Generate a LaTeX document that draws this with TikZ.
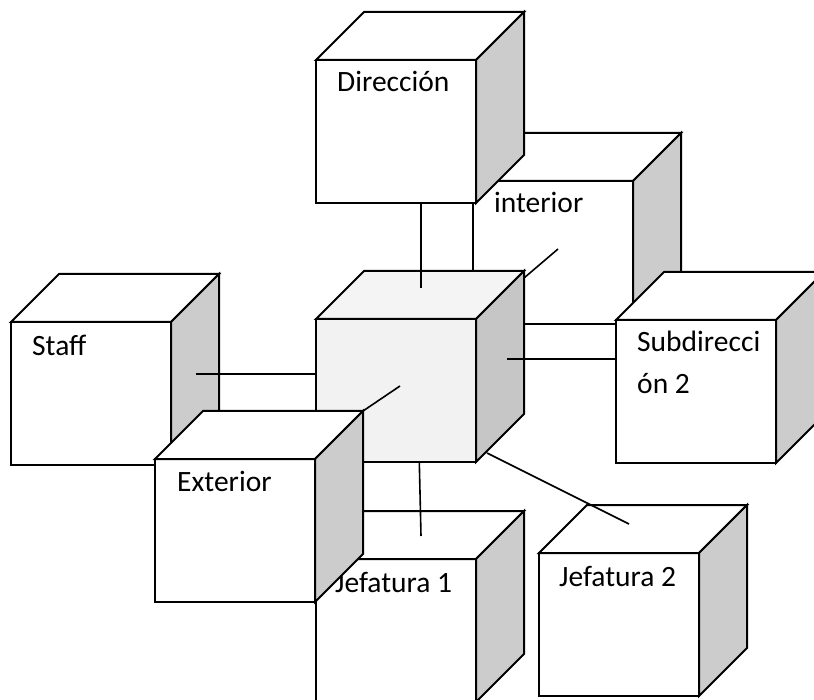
\documentclass[tikz,border=0pt]{standalone}
\usepackage{fontspec}
\setmainfont{Carlito}
\newcommand\drawcubebox[5]{% x, y of front top-left corner; front, top, side fills
  \filldraw[cubeedge,fill=#3] (#1,#2) rectangle ++(160,143);
  \filldraw[cubeedge,fill=#4] (#1,#2) -- ++(48,-48) -- ++(160,0) -- ++(-48,48) -- cycle;
  \filldraw[cubeedge,fill=#5] (#1+160,#2) -- ++(48,-48) -- ++(0,143) -- ++(-48,48) -- cycle;
}
\definecolor{sidegray}{HTML}{CCCCCC}
\definecolor{centerfront}{HTML}{F2F2F2}
\definecolor{centertop}{HTML}{F4F4F4}
\definecolor{centerside}{HTML}{C6C6C6}
\begin{document}
\begin{tikzpicture}[x=1pt,y=-1pt,
  cubeedge/.style={draw=black,line width=2pt,line join=miter},
  link/.style={draw=black,line width=1.6pt},
  label/.style={anchor=base west,inner sep=0pt,font=\fontsize{29.5}{41.7}\selectfont}]
\clip (0,0) rectangle (814,700);
\fill[white] (0,0) rectangle (814,700);

% back cube
\drawcubebox{473}{181}{white}{white}{sidegray}
\node[label] (interior) at (494,213) {interior};

% top cube
\drawcubebox{316}{60}{white}{white}{sidegray}
\node[label] (direccion) at (337,92) {Dirección};

% central cube
\drawcubebox{316}{319}{centerfront}{centertop}{centerside}

% side cubes
\drawcubebox{11}{322}{white}{white}{sidegray}
\node[label] (staff) at (32,356) {Staff};

\drawcubebox{616}{320}{white}{white}{sidegray}
\node[label] (sub) at (637,352) {Subdirecci};
\node[label] (sub2) at (637,393.5) {ón 2};

% lower cubes
\drawcubebox{316}{559}{white}{white}{sidegray}
\node[label] (jef1) at (335,592) {Jefatura 1};

\drawcubebox{539}{553}{white}{white}{sidegray}
\node[label] (jef2) at (559,586) {Jefatura 2};

% connector end points
\coordinate (dirA) at (421,203);
\coordinate (dirB) at (421,288);
\coordinate (stA) at (196,374);
\coordinate (stB) at (316,374);
\coordinate (exA) at (400,386);
\coordinate (exB) at (363,411);
\coordinate (inA) at (524,278);
\coordinate (inB) at (558,249);
\coordinate (suA) at (507,359);
\coordinate (suB) at (616,359);
\coordinate (j1A) at (419.3,462);
\coordinate (j1B) at (421,536);
\coordinate (j2A) at (487,453);
\coordinate (j2B) at (629,524);

\draw[link] (dirA) -- (dirB);
\draw[link] (stA) -- (stB);
\draw[link] (exA) -- (exB);
\draw[link] (inA) -- (inB);
\draw[link] (suA) -- (suB);
\draw[link] (j1A) -- (j1B);
\draw[link] (j2A) -- (j2B);

% front cube
\drawcubebox{155}{459}{white}{white}{sidegray}
\node[label] (exterior) at (177,491) {Exterior};
\end{tikzpicture}
\end{document}
